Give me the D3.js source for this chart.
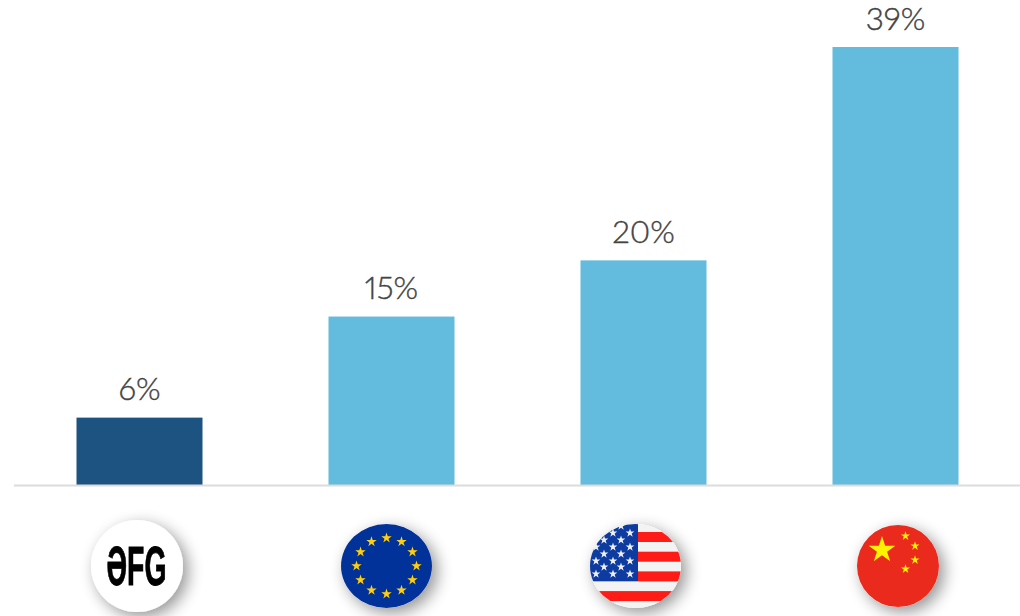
<!DOCTYPE html>
<html>
<head>
<meta charset="utf-8">
<script src="https://cdnjs.cloudflare.com/ajax/libs/d3/7.8.5/d3.min.js"></script>
<style>
html,body{margin:0;padding:0;background:#fff;overflow:hidden}
svg{display:block}
</style>
</head>
<body>
<svg id="chart" width="1020" height="616"></svg>
<script>
const categories = ["ƏFG", "EU", "USA", "China"];
const shares = [6, 15, 20, 39];
const barColors = ["#1c5380", "#63bcde", "#63bcde", "#63bcde"];
const labelColor = "#444444";
const axisColor = "#dcdcdc";

const svg = d3.select("#chart");

const x = d3.scaleBand().domain(categories).range([13.5, 1021.5]).paddingInner(0.5).paddingOuter(0.25);
const y = d3.scaleLinear().domain([0, 39]).range([485, 47]);

svg.selectAll("rect.bar").data(categories).join("rect")
  .attr("class", "bar")
  .attr("x", d => x(d))
  .attr("width", x.bandwidth())
  .attr("y", (d, i) => y(shares[i]))
  .attr("height", (d, i) => y(0) - y(shares[i]))
  .attr("fill", (d, i) => barColors[i]);

svg.append("line")
  .attr("x1", 14).attr("x2", 1020)
  .attr("y1", y(0) + 0.5).attr("y2", y(0) + 0.5)
  .attr("stroke", axisColor).attr("stroke-width", 1.8);

svg.selectAll("text.value").data(categories).join("text")
  .attr("class", "value")
  .attr("x", d => x(d) + x.bandwidth() / 2)
  .attr("y", (d, i) => y(shares[i]) - 17.5)
  .attr("text-anchor", "middle")
  .attr("font-family", "Lato, 'Open Sans', sans-serif")
  .attr("font-weight", 300)
  .attr("font-size", 31.5)
  .style("font-feature-settings", "'pnum'")
  .attr("fill", labelColor)
  .attr("stroke", labelColor)
  .attr("stroke-width", 0.4)
  .text((d, i) => shares[i] + "%");

// Badge definitions: soft drop shadow plus one clip per badge
const defs = svg.append("defs");
const shadow = defs.append("filter").attr("id", "badgeShadow")
  .attr("x", "-40%").attr("y", "-40%").attr("width", "190%").attr("height", "190%");
shadow.append("feGaussianBlur").attr("in", "SourceAlpha").attr("stdDeviation", 8).attr("result", "b");
shadow.append("feOffset").attr("in", "b").attr("dx", 5).attr("dy", 5).attr("result", "o");
shadow.append("feComponentTransfer").attr("in", "o").attr("result", "s")
  .append("feFuncA").attr("type", "linear").attr("slope", 0.42);
const merge = shadow.append("feMerge");
merge.append("feMergeNode").attr("in", "s");
merge.append("feMergeNode").attr("in", "SourceGraphic");
defs.append("filter").attr("id", "soft").append("feGaussianBlur").attr("stdDeviation", 0.45);

function starPath(cx, cy, r) {
  const pts = d3.range(10).map(k => {
    const a = -Math.PI / 2 + k * Math.PI / 5;
    const rad = k % 2 ? r * 0.382 : r;
    return [cx + rad * Math.cos(a), cy + rad * Math.sin(a)];
  });
  return "M" + pts.map(p => p.join(",")).join("L") + "Z";
}

function badge(id, cx, cy, rx, ry) {
  defs.append("clipPath").attr("id", "clip" + id)
    .append("ellipse").attr("cx", cx).attr("cy", cy).attr("rx", rx).attr("ry", ry);
  const outer = svg.append("g").attr("filter", "url(#badgeShadow)");
  outer.append("ellipse").attr("cx", cx).attr("cy", cy).attr("rx", rx).attr("ry", ry).attr("fill", "#fff");
  return outer.append("g").attr("clip-path", `url(#clip${id})`).attr("filter", "url(#soft)");
}

// Company logo
const logo = badge("Logo", 137, 566, 46, 46);
logo.append("text")
  .attr("x", 136.5).attr("y", 585)
  .attr("text-anchor", "middle")
  .attr("font-family", "'Liberation Sans Narrow', 'Liberation Sans', sans-serif")
  .attr("font-weight", 700).attr("font-size", 55)
  .attr("textLength", 60).attr("lengthAdjust", "spacingAndGlyphs")
  .attr("stroke", "#050505").attr("stroke-width", 0.9)
  .attr("fill", "#050505").text("ƏFG");

// EU flag: twelve stars on a ring
const eu = badge("Eu", 386.5, 566, 45.5, 42);
eu.append("rect").attr("x", 340).attr("y", 523).attr("width", 94).attr("height", 86).attr("fill", "#00309a");
d3.range(12).forEach(k => {
  const a = k * Math.PI / 6;
  eu.append("path")
    .attr("d", starPath(386.5 + 30 * Math.sin(a), 566 - 28 * Math.cos(a), 5.5))
    .attr("fill", "#ffcf10");
});

// US flag: stripes, canton and star rows
const us = badge("Us", 635.5, 566, 45.5, 42);
us.append("rect").attr("x", 589).attr("y", 523).attr("width", 94).attr("height", 86).attr("fill", "#f3f3f3");
d3.range(4).forEach(k => {
  us.append("rect").attr("x", 589).attr("y", 532 + k * 19.7).attr("width", 94).attr("height", 10).attr("fill", "#ff1a17");
});
us.append("rect").attr("x", 589).attr("y", 523).attr("width", 49).attr("height", 58).attr("fill", "#0a3aa0");
[[533, [596, 613, 630]], [540, [604, 621]], [547, [596, 613, 630]], [554, [604, 621]],
 [561, [596, 613, 630]], [567, [604, 621]], [574, [596, 613, 630]], [526, [604, 621]]]
  .forEach(([cy, xs]) => xs.forEach(cx => {
    us.append("path").attr("d", starPath(cx, cy, 4.6)).attr("fill", "#eef0f6");
  }));

// Chinese flag: large star with four small ones
const cn = badge("Cn", 898, 566, 41, 41);
cn.append("rect").attr("x", 856).attr("y", 524).attr("width", 84).attr("height", 84).attr("fill", "#e9291c");
cn.append("path").attr("d", starPath(882, 550, 14)).attr("fill", "#fff200");
[[905.5, 536], [915, 546], [915, 560], [905.5, 569]].forEach(([cx, cy]) => {
  cn.append("path").attr("d", starPath(cx, cy, 4.8)).attr("fill", "#fff200");
});
</script>
</body>
</html>
